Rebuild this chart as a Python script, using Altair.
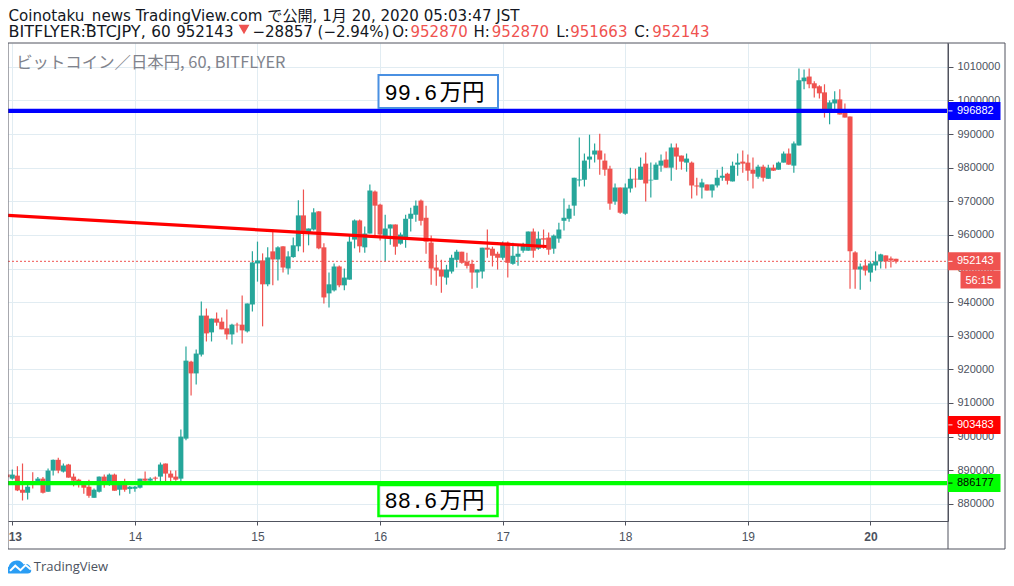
import altair as alt
import pandas as pd

# candle values, thousand yen, hourly from index -1
opens = [888.7, 887.5, 888.4, 884.2, 883.3, 886.5, 886.2, 887.5, 883.6, 889.9,
         893.1, 889.6, 891.7, 888.1, 887.2, 885.7, 885.1, 881.8, 883.6, 888.1,
         886.7, 888.7, 884.2, 885.7, 884.4, 884.5, 884.8, 887.5, 886.9, 887.8,
         888.1, 892.0, 889.0, 888.1, 887.5, 899.4, 922.3, 918.8, 924.4, 936.0,
         931.0, 935.1, 934.2, 932.2, 930.4, 933.3, 933.3, 931.3, 939.3, 951.5,
         952.4, 945.3, 955.1, 952.7, 956.6, 950.0, 953.4, 956.6, 965.8, 960.7,
         961.6, 967.0, 956.3, 942.6, 943.5, 950.6, 945.0, 946.7, 958.6, 964.3,
         956.3, 960.4, 972.9, 969.0, 959.4, 961.9, 963.1, 957.4, 958.6, 964.8,
         966.0, 970.2, 965.1, 957.7, 950.3, 949.7, 947.3, 949.1, 952.6, 955.0,
         952.0, 951.4, 948.8, 949.1, 956.2, 955.9, 954.4, 953.2, 957.7, 951.4,
         953.5, 955.3, 955.3, 961.0, 955.9, 959.0, 959.2, 955.9, 958.9, 964.2,
         964.8, 968.7, 976.2, 976.4, 982.4, 983.9, 985.1, 982.1, 979.7, 969.9,
         974.1, 966.3, 973.8, 976.7, 976.4, 981.2, 976.2, 976.4, 980.6, 982.4,
         980.0, 986.0, 983.6, 981.5, 981.5, 974.7, 974.1, 975.0, 973.2, 974.7,
         977.0, 978.2, 975.9, 980.9, 981.8, 981.5, 979.4, 977.3, 980.3, 976.7,
         980.0, 979.4, 981.5, 984.2, 980.6, 986.6, 1005.7, 1007.1, 1005.1, 1004.2,
         1002.4, 997.3, 999.1, 1000.3, 997.3, 995.2, 954.8, 949.7, 950.9, 948.8,
         950.9, 952.1, 953.9, 953.0, 952.9]
highs = [888.9, 890.2, 891.2, 892.0, 886.7, 889.4, 888.0, 888.0, 890.5, 893.2,
         893.7, 892.0, 891.9, 889.0, 887.5, 886.4, 887.2, 884.6, 888.1, 888.7,
         889.0, 889.0, 886.2, 887.5, 885.3, 885.3, 887.5, 889.6, 887.9, 888.1,
         892.3, 892.0, 889.9, 889.9, 902.1, 926.8, 922.6, 925.9, 940.2, 938.1,
         935.1, 936.9, 935.4, 937.8, 933.6, 933.9, 942.0, 939.6, 955.1, 958.0,
         954.5, 956.3, 961.6, 956.6, 956.6, 955.1, 959.2, 970.3, 973.5, 961.9,
         967.9, 967.0, 957.5, 948.8, 951.5, 950.9, 950.0, 959.8, 964.6, 964.6,
         962.5, 975.0, 973.2, 969.3, 966.0, 963.1, 963.1, 960.7, 966.0, 968.1,
         970.2, 970.5, 968.7, 959.8, 954.1, 952.6, 951.1, 954.1, 955.6, 955.0,
         954.7, 952.6, 949.7, 956.2, 961.6, 956.5, 955.0, 958.0, 958.0, 957.7,
         956.8, 957.7, 961.0, 961.9, 961.0, 961.6, 960.7, 960.1, 963.6, 970.8,
         969.0, 977.0, 989.0, 984.2, 989.8, 987.2, 990.1, 984.2, 980.6, 975.3,
         974.1, 975.3, 980.0, 979.7, 983.0, 984.5, 981.5, 981.5, 983.9, 984.8,
         987.2, 987.2, 983.6, 984.2, 981.8, 977.0, 976.7, 975.0, 975.0, 979.4,
         980.3, 978.5, 981.8, 984.2, 985.1, 983.9, 983.0, 980.9, 980.9, 980.9,
         980.9, 981.8, 984.8, 985.7, 987.8, 1009.5, 1009.2, 1009.5, 1005.7, 1004.5,
         1004.8, 1000.0, 1002.7, 1003.3, 999.1, 995.2, 955.1, 951.5, 952.7, 952.1,
         955.1, 954.4, 953.9, 953.6, 952.9]
lows = [887.7, 887.2, 883.8, 881.0, 881.3, 884.6, 886.0, 883.1, 883.6, 888.4,
        889.1, 889.3, 887.8, 885.2, 884.9, 883.0, 881.8, 881.8, 883.4, 884.8,
        885.4, 883.9, 882.5, 883.6, 883.0, 883.6, 884.6, 886.7, 886.7, 886.9,
        886.6, 886.6, 886.6, 886.9, 886.7, 898.9, 912.2, 915.5, 923.8, 928.3,
        928.3, 933.0, 931.9, 928.9, 927.4, 931.0, 927.7, 931.0, 937.2, 946.1,
        932.8, 944.7, 945.0, 946.4, 948.8, 948.2, 953.2, 955.1, 954.8, 956.9,
        961.3, 955.7, 939.6, 938.4, 943.2, 944.4, 943.5, 946.7, 956.0, 954.8,
        954.7, 960.4, 960.0, 958.3, 952.1, 957.1, 954.1, 957.1, 956.2, 961.0,
        963.9, 962.8, 954.4, 945.2, 944.9, 942.8, 945.2, 948.5, 950.3, 951.4,
        950.0, 944.0, 944.3, 947.0, 953.2, 950.6, 949.7, 952.6, 947.3, 951.1,
        950.8, 954.7, 955.3, 953.2, 955.6, 955.9, 954.1, 954.4, 957.7, 961.3,
        963.9, 965.7, 974.4, 974.4, 979.7, 981.5, 977.9, 977.6, 967.5, 969.0,
        966.3, 966.0, 972.6, 974.1, 976.4, 969.9, 971.1, 976.4, 978.8, 980.0,
        976.1, 979.4, 979.4, 978.8, 970.8, 971.7, 970.8, 973.2, 971.1, 974.1,
        976.1, 975.0, 975.9, 977.6, 978.5, 976.1, 973.8, 976.7, 975.9, 976.7,
        979.0, 979.4, 981.5, 980.9, 978.5, 986.6, 1003.3, 1003.6, 1000.9, 1000.6,
        994.9, 992.9, 997.3, 995.8, 994.9, 944.0, 944.0, 943.7, 947.9, 946.1,
        949.4, 950.0, 950.0, 950.3, 951.5]
closes = [887.9, 888.7, 884.0, 883.3, 885.1, 886.3, 887.5, 883.3, 889.9, 893.1,
          889.9, 891.4, 887.8, 886.9, 886.7, 884.8, 882.4, 884.2, 888.1, 886.7,
          888.7, 883.9, 885.7, 884.2, 885.1, 885.1, 887.5, 886.9, 887.5, 887.5,
          891.7, 889.0, 887.8, 887.2, 900.0, 922.6, 918.8, 924.7, 936.0, 930.7,
          935.1, 933.9, 931.9, 930.4, 933.3, 933.1, 931.6, 939.6, 951.8, 952.4,
          945.3, 953.3, 952.7, 956.3, 950.3, 953.6, 956.9, 965.8, 961.0, 961.9,
          966.7, 956.0, 941.4, 945.3, 950.6, 945.0, 947.3, 958.0, 964.3, 956.6,
          960.4, 973.2, 968.7, 960.1, 961.9, 963.1, 956.5, 960.1, 964.8, 966.3,
          968.7, 964.2, 958.0, 950.0, 949.4, 947.6, 949.7, 953.2, 955.0, 951.7,
          950.8, 948.8, 949.7, 956.2, 955.6, 953.8, 953.2, 957.1, 951.7, 953.8,
          954.4, 956.8, 961.0, 955.3, 958.9, 958.6, 955.6, 959.8, 961.6, 965.1,
          967.8, 977.0, 976.5, 982.1, 983.3, 985.1, 982.4, 979.4, 969.3, 974.1,
          966.6, 974.1, 976.7, 976.5, 980.3, 975.3, 976.4, 980.9, 982.1, 980.0,
          986.0, 983.3, 981.8, 982.7, 974.7, 974.4, 975.6, 973.2, 975.0, 977.0,
          977.6, 976.1, 980.6, 981.5, 981.2, 979.1, 978.2, 980.3, 977.0, 980.0,
          979.1, 981.5, 984.2, 980.9, 987.2, 1006.0, 1006.8, 1004.8, 1003.6, 1002.1,
          997.3, 999.4, 1000.3, 995.8, 994.9, 955.1, 949.7, 950.6, 949.4, 951.5,
          952.1, 954.2, 952.1, 952.4, 952.1]

day_ticks = [0, 24, 48, 72, 96, 120, 144, 168]
day_labels = ["13", "14", "15", "16", "17", "18", "19", "20"]
price_ticks = [880, 890, 900, 910, 920, 930, 940, 950, 960, 970, 980, 990, 1000, 1010]

blue_level = 996.882
green_level = 886.177
red_level = 903.483
last_price = 952.143
trend_x = [-0.84, 104.6]
trend_y = [965.8, 956.55]

TEAL, RED = "#26a69a", "#ef5350"
AX = "#50535e"
INK = "#131722"
LATIN = "DejaVu Sans, Noto Sans CJK JP"
AXF = "Liberation Sans"

df = pd.DataFrame({"i": range(-1, len(opens) - 1), "o": opens, "h": highs, "l": lows, "c": closes})
df["col"] = [TEAL if c >= o else RED for o, c in zip(opens, closes)]

XS = alt.Scale(domain=[-0.842, 183.18], nice=False, zero=False, padding=0)
YS = alt.Scale(domain=[874.9, 1017.08], nice=False, zero=False, padding=0)

lbl_expr = "[" + ",".join(f"'{s}'" for s in day_labels) + "][datum.value / 24]"
XA = alt.Axis(
    values=day_ticks, labelExpr=lbl_expr, title=None, gridColor="#e1ecf2", gridWidth=1,
    domainColor=AX, tickColor=AX, tickSize=4, labelColor="#4c525e", labelFont=AXF,
    labelFontSize=12, labelPadding=6, labelFlush=False, labelOverlap=False,
    labelOffset={"condition": {"test": "datum.value == 0", "value": 2.5}, "value": 0},
    labelFontWeight={"condition": {"test": "datum.value == 0 || datum.value == 168", "value": "bold"}, "value": "normal"})
YA = alt.Axis(
    values=price_ticks, orient="right", title=None, labelExpr="format(datum.value * 1000, 'd')",
    gridColor="#e1ecf2", gridWidth=1, domainColor=AX, tickColor=AX, tickSize=5,
    labelColor="#4c525e", labelFont=AXF, labelFontSize=11, labelPadding=4, labelOverlap=False, labelFlush=False)

wicks = alt.Chart(df).mark_rule(strokeWidth=1.2, clip=True).encode(
    x=alt.X("i:Q", scale=XS, axis=XA), y=alt.Y("l:Q", scale=YS, axis=YA),
    y2="h:Q", color=alt.Color("col:N", scale=None))
bodies = alt.Chart(df).mark_bar(size=5, clip=True).encode(
    x=alt.X("i:Q", scale=XS, axis=XA), y=alt.Y("o:Q", scale=YS, axis=YA), y2="c:Q", color=alt.Color("col:N", scale=None))


def hline(level, color, width, dash=None):
    kw = {"strokeDash": dash} if dash else {}
    return alt.Chart(pd.DataFrame({"v": [level]})).mark_rule(color=color, strokeWidth=width, **kw).encode(
        y=alt.Y("v:Q", scale=YS, axis=YA), x=alt.value(0), x2=alt.value(939))


price_line = hline(last_price, RED, 1, [2, 2])
blue_line = hline(blue_level, "#0000ff", 4.4)
green_line = hline(green_level, "#00ff00", 4.4)
trend = alt.Chart(pd.DataFrame({"i": trend_x, "v": trend_y})).mark_line(color="#ff0000", strokeWidth=3.2, clip=True).encode(
    x=alt.X("i:Q", scale=XS, axis=XA), y=alt.Y("v:Q", scale=YS, axis=YA))


# real picture coordinates to plot coordinates
def px(x):
    return x - 8.5


def py(y):
    return y - 43.5


def rule(x1, y1, x2, y2, color=AX, width=1):
    return alt.Chart(pd.DataFrame({"a": [0]})).mark_rule(color=color, strokeWidth=width).encode(
        x=alt.value(px(x1)), x2=alt.value(px(x2)), y=alt.value(py(y1)), y2=alt.value(py(y2)))


def text(s, x, y, size, color, font=LATIN, align="left", **kw):
    return alt.Chart(pd.DataFrame({"a": [s]})).mark_text(
        text=s, fontSize=size, color=color, font=font, align=align, baseline="alphabetic", **kw
    ).encode(x=alt.value(px(x)), y=alt.value(py(y)))


def box(x1, y1, x2, y2, stroke, width, fill=None):
    kw = {"fill": fill, "fillOpacity": 1} if fill else {"fillOpacity": 0}
    return alt.Chart(pd.DataFrame({"a": [0]})).mark_rect(stroke=stroke, strokeWidth=width, **kw).encode(
        x=alt.value(px(x1)), x2=alt.value(px(x2)), y=alt.value(py(y1)), y2=alt.value(py(y2)))


def tag(level, s, fill, fg):
    base = pd.DataFrame({"v": [level]})
    bar = alt.Chart(base).mark_rule(color=fill, strokeWidth=18).encode(
        y=alt.Y("v:Q", scale=YS, axis=YA), x=alt.value(px(948.5)), x2=alt.value(px(1001)))
    dash = alt.Chart(base).mark_rule(color=fg, strokeWidth=1).encode(
        y=alt.Y("v:Q", scale=YS, axis=YA), x=alt.value(px(949)), x2=alt.value(px(953)))
    lab = alt.Chart(base).mark_text(text=s, color=fg, font=AXF, fontSize=11, align="left", baseline="middle").encode(
        y=alt.Y("v:Q", scale=YS, axis=YA), x=alt.value(px(957.5)))
    return bar + dash + lab


R = 1005.5
frame = [rule(8.5, 43.5, R, 43.5), rule(8.5, 549.5, R, 549.5), rule(8.5, 43.5, 8.5, 549.5),
         rule(R, 43.5, R, 549.5), rule(948.5, 43.5, 948.5, 549.5)]

MONO = "Liberation Mono"
boxes = [box(379, 75.5, 498.5, 108.5, "#4a90e2", 2, "#ffffff"), box(379, 485.5, 498, 516.5, "#00ff00", 2.5),
         text("99.6", 385, 100, 22, "#000000", font=MONO), text("万円", 440, 100, 22.5, "#000000", font="Noto Sans CJK JP"),
         text("88.6", 385, 508, 22, "#000000", font=MONO), text("万円", 440, 508, 22.5, "#000000", font="Noto Sans CJK JP")]

header = [
    text("Coinotaku_news TradingView.com で公開, 1月 20, 2020 05:03:47 JST", 9, 21, 15.1, INK),
    text("BITFLYER:BTCJPY,", 9, 37.5, 16, INK), text("60", 151.7, 37.5, 15.3, INK), text("952143", 176.7, 37.5, 15, INK),
    text("−28857 (−2.94%)", 253, 37.5, 15, INK),
    text("O:", 392.7, 37.5, 15, INK), text("952870", 411, 37.5, 15, RED),
    text("H:", 474, 37.5, 15, INK), text("952870", 492.3, 37.5, 15, RED),
    text("L:", 556.7, 37.5, 15, INK), text("951663", 570.7, 37.5, 15, RED),
    text("C:", 634.7, 37.5, 15, INK), text("952143", 652.7, 37.5, 15, RED),
    text("ビットコイン／日本円, 60, BITFLYER", 16.7, 68, 16.4, "#80838c", font="Noto Sans CJK JP"),
    text("TradingView", 34.3, 571.5, 13, "#4c525e", font="Open Sans"),
]
tri = alt.Chart(pd.DataFrame({"a": [0]})).mark_point(shape="triangle-down", filled=True, fill=RED, stroke=RED, size=55, opacity=1).encode(
    x=alt.value(px(244.5)), y=alt.value(py(29.5)))

cloud = "M -0.7 0.5 C -1 0.5 -1.05 0.05 -0.75 -0.02 C -0.7 -0.3 -0.4 -0.52 -0.1 -0.5 C 0.15 -0.5 0.3 -0.35 0.4 -0.2 C 0.7 -0.3 0.95 -0.1 0.93 0.15 C 1.05 0.3 0.95 0.5 0.7 0.5 Z"
zig = "M -0.65 0.3 L -0.25 -0.1 L 0.15 0.25 L 0.55 -0.15 L 0.95 0.2"
logo = [alt.Chart(pd.DataFrame({"a": [0]})).mark_point(shape=cloud, filled=True, fill="#2a9df4", stroke="#2a9df4", strokeWidth=0, size=676, opacity=1).encode(x=alt.value(px(19)), y=alt.value(py(567.5))),
        alt.Chart(pd.DataFrame({"a": [0]})).mark_point(shape=zig, filled=False, stroke="#ffffff", strokeWidth=2, size=676, opacity=1).encode(x=alt.value(px(19)), y=alt.value(py(567.5)))]

timer_bar = alt.Chart(pd.DataFrame({"v": [last_price]})).mark_rule(color=RED, strokeWidth=18).encode(
    y=alt.value(py(280)), x=alt.value(px(961)), x2=alt.value(px(1001)))
timer_lab = text("56:15", 966, 284, 11, "#ffffff", font=AXF)

layers = [wicks, price_line, bodies, trend, blue_line, green_line] + boxes + frame + [
    tag(blue_level, "996882", "#0000ff", "#ffffff"), tag(last_price, "952143", RED, "#ffffff"),
    tag(red_level, "903483", "#ff0000", "#ffffff"), tag(green_level, "886177", "#00ff00", "#000000"),
    timer_bar, timer_lab, tri] + header + logo

chart = alt.layer(*layers).properties(
    width=940, height=478,
    padding={"left": 0, "top": 35, "right": 58, "bottom": 55},
    autosize=alt.AutoSizeParams(type="none"),
    background="#ffffff",
).configure_view(stroke=None)

chart.save("out.html", embed_options={"renderer": "svg", "actions": False})
